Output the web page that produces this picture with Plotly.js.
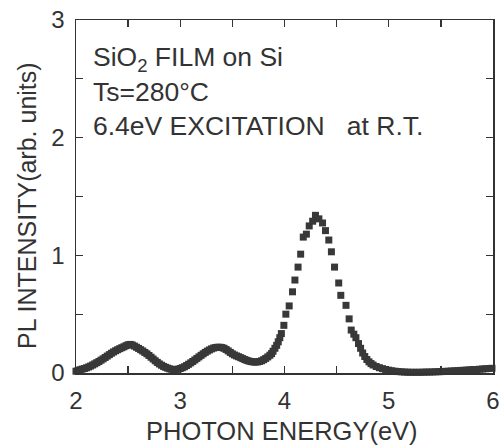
<!DOCTYPE html>
<html>
<head>
<meta charset="utf-8">
<script src="https://cdn.plot.ly/plotly-3.0.1.min.js"></script>
<style>html,body{margin:0;padding:0;background:#fff;}#chart{width:504px;height:445px;}</style>
</head>
<body>
<div id="chart"></div>
<script>
// Photon energy (eV)
const energy = [
2.00,2.02,2.04,2.06,2.08,2.10,2.12,2.14,2.16,2.18,2.20,2.22,2.24,2.26,2.28,2.30,2.32,2.34,2.36,2.38,
2.40,2.42,2.44,2.46,2.48,2.50,2.52,2.54,2.56,2.58,2.60,2.62,2.64,2.66,2.68,2.70,2.72,2.74,2.76,2.78,
2.80,2.82,2.84,2.86,2.88,2.90,2.92,2.94,2.96,2.98,3.00,3.02,3.04,3.06,3.08,3.10,3.12,3.14,3.16,3.18,
3.20,3.22,3.24,3.26,3.28,3.30,3.32,3.34,3.36,3.38,3.40,3.42,3.44,3.46,3.48,3.50,3.52,3.54,3.56,3.58,
3.60,3.62,3.64,3.66,3.68,3.70,3.72,3.74,3.76,3.78,3.80,3.82,3.84,3.86,
3.876,3.89,3.908,3.925,3.94,3.955,3.97,3.994,4.013,4.045,4.077,4.10,4.13,4.155,4.18,4.21,4.237,4.27,4.297,
4.33,4.365,4.393,4.425,4.45,4.48,4.52,4.54,4.59,4.62,4.64,4.665,4.685,4.71,4.73,4.75,4.77,4.79,4.81,4.83,
4.85,4.88,4.91,4.94,4.97,5.00,
5.03,5.06,5.09,5.12,5.15,5.18,5.21,5.24,5.27,5.30,5.33,5.36,5.39,5.42,5.45,5.48,5.51,5.54,5.57,5.60,
5.63,5.66,5.69,5.72,5.75,5.78,5.81,5.84,5.87,5.90,5.93,5.96,5.99
];
// PL intensity (arb. units)
const intensity = [
0.015,0.022,0.028,0.033,0.038,0.044,0.051,0.059,0.068,0.078,0.088,0.098,0.109,0.120,0.132,0.144,0.156,0.168,0.179,0.189,
0.198,0.207,0.215,0.223,0.232,0.240,0.243,0.238,0.229,0.219,0.209,0.198,0.187,0.175,0.163,0.149,0.134,0.119,0.104,0.090,
0.077,0.066,0.056,0.048,0.041,0.035,0.031,0.029,0.030,0.033,0.038,0.045,0.053,0.063,0.074,0.086,0.098,0.111,0.124,0.137,
0.150,0.163,0.175,0.186,0.196,0.205,0.212,0.217,0.219,0.219,0.216,0.210,0.200,0.188,0.175,0.163,0.153,0.145,0.138,0.130,
0.122,0.114,0.107,0.101,0.097,0.094,0.093,0.094,0.098,0.104,0.113,0.124,0.137,0.151,
0.165,0.185,0.21,0.235,0.265,0.30,0.335,0.405,0.50,0.57,0.69,0.79,0.90,1.01,1.155,1.18,1.25,1.29,1.34,
1.31,1.275,1.21,1.13,1.03,0.90,0.765,0.66,0.575,0.46,0.365,0.33,0.30,0.25,0.21,0.17,0.14,0.115,0.095,0.08,
0.068,0.055,0.045,0.037,0.030,0.024,
0.019,0.015,0.012,0.010,0.008,0.007,0.006,0.006,0.006,0.006,0.007,0.008,0.008,0.009,0.010,0.011,0.012,0.014,0.015,0.017,
0.018,0.020,0.022,0.023,0.025,0.027,0.029,0.030,0.032,0.034,0.036,0.038,0.040
];
const xTickVals = [2, 3, 4, 5, 6];
const xTickText = ['2', '3', '4', '5', '6'];
const yTickVals = [0, 1, 2, 3];
const yTickText = ['0', '1', '2', '3'];
const labels = ['SiO<sub>2</sub> FILM on Si', 'Ts=280°C', '6.4eV EXCITATION\u00A0\u00A0 at R.T.'];
const xTitle = 'PHOTON ENERGY(eV)';
const yTitle = 'PL INTENSITY(arb. units)';

const ink = '#333333';
const font = 'Liberation Sans, Arial, sans-serif';

const trace = {
  x: energy, y: intensity, type: 'scatter', mode: 'markers',
  marker: {symbol: 'square', size: 7, color: '#383838', line: {width: 0}},
  cliponaxis: false, hoverinfo: 'skip'
};

const axisCommon = {
  showgrid: false, zeroline: false, showline: true, linecolor: ink, linewidth: 1.5,
  mirror: 'ticks', ticks: 'inside', ticklen: 7, tickwidth: 1.3, tickcolor: ink,
  tickfont: {family: font, size: 24, color: ink},
  minor: {ticks: 'inside', dtick: 0.5, ticklen: 7, tickwidth: 1.3, tickcolor: ink}
};

const layout = {
  width: 504, height: 445,
  margin: {l: 76, r: 11, t: 20, b: 72},
  paper_bgcolor: '#ffffff', plot_bgcolor: '#ffffff',
  showlegend: false,
  xaxis: Object.assign({}, axisCommon, {
    range: [2, 6], tickmode: 'array', tickvals: xTickVals, ticktext: xTickText,
    ticklabelstandoff: 6
  }),
  yaxis: Object.assign({}, axisCommon, {
    range: [0, 3], tickmode: 'array', tickvals: yTickVals, ticktext: yTickText,
    ticklabelstandoff: 5
  }),
  annotations: labels.map((t, i) => ({
    text: t, xref: 'paper', yref: 'paper', x: 0.036, y: [0.89, 0.795, 0.699][i],
    xanchor: 'left', yanchor: 'middle', showarrow: false,
    font: {family: font, size: 26.5, color: ink}
  })).concat([{
    text: yTitle, xref: 'paper', yref: 'paper', x: -0.1175, y: 0.473,
    xanchor: 'center', yanchor: 'middle', textangle: -90, showarrow: false,
    font: {family: font, size: 25, color: ink}
  }, {
    text: xTitle, xref: 'paper', yref: 'paper', x: 0.493, y: -0.165,
    xanchor: 'center', yanchor: 'middle', showarrow: false,
    font: {family: font, size: 25.5, color: ink}
  }])
};

Plotly.newPlot('chart', [trace], layout, {staticPlot: true, displayModeBar: false});
</script>
</body>
</html>
